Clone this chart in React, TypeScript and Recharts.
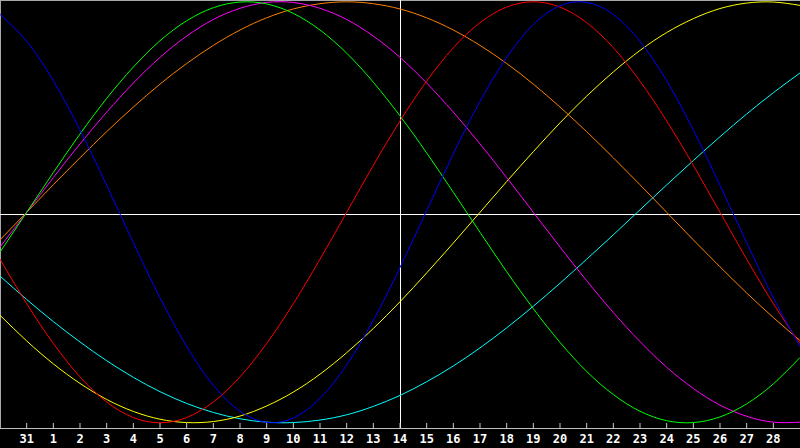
import { LineChart, Line, XAxis, YAxis, ReferenceLine } from "recharts";

// day labels for each point (index 0 .. 30), Jan 30 -> Mar 1
const days = [
  "30", "31", "1", "2", "3", "4", "5", "6", "7", "8", "9", "10", "11", "12",
  "13", "14", "15", "16", "17", "18", "19", "20", "21", "22", "23", "24",
  "25", "26", "27", "28", "1",
];

// tick positions that carry a label (point index)
const tickIdx = [
  1, 2, 3, 4, 5, 6, 7, 8, 9, 10, 11, 12, 13, 14, 15, 16, 17, 18, 19, 20, 21,
  22, 23, 24, 25, 26, 27, 28, 29,
];

const blue = [
  0.94, 0.812, 0.625, 0.391, 0.128, -0.144, -0.406, -0.637, -0.822, -0.945,
  -0.998, -0.977, -0.884, -0.725, -0.513, -0.262, 0.008, 0.278, 0.527, 0.736,
  0.892, 0.981, 0.997, 0.94, 0.812, 0.625, 0.391, 0.128, -0.144, -0.406,
  -0.637,
];
const red = [
  -0.223, -0.434, -0.623, -0.782, -0.901, -0.975, -1.0, -0.975, -0.901,
  -0.782, -0.623, -0.434, -0.223, 0.0, 0.223, 0.434, 0.623, 0.782, 0.901,
  0.975, 1.0, 0.975, 0.901, 0.782, 0.623, 0.434, 0.223, 0.0, -0.223, -0.434,
  -0.623,
];
const green = [
  -0.189, 0.0, 0.189, 0.372, 0.541, 0.69, 0.815, 0.91, 0.972, 0.999, 0.99,
  0.945, 0.866, 0.756, 0.618, 0.458, 0.282, 0.095, -0.095, -0.282, -0.458,
  -0.618, -0.756, -0.866, -0.945, -0.99, -0.999, -0.972, -0.91, -0.815, -0.69,
];
const magenta = [
  -0.165, 0.0, 0.165, 0.325, 0.476, 0.614, 0.736, 0.837, 0.916, 0.969, 0.997,
  0.997, 0.969, 0.916, 0.837, 0.736, 0.614, 0.476, 0.325, 0.165, 0.0, -0.165,
  -0.325, -0.476, -0.614, -0.736, -0.837, -0.916, -0.969, -0.997, -0.997,
];
const orange = [
  -0.131, 0.0, 0.131, 0.259, 0.383, 0.5, 0.609, 0.707, 0.793, 0.866, 0.924,
  0.966, 0.991, 1.0, 0.991, 0.966, 0.924, 0.866, 0.793, 0.707, 0.609, 0.5,
  0.383, 0.259, 0.131, 0.0, -0.131, -0.259, -0.383, -0.5, -0.609,
];
const yellow = [
  -0.489, -0.611, -0.72, -0.813, -0.889, -0.946, -0.983, -0.999, -0.994,
  -0.968, -0.92, -0.854, -0.769, -0.667, -0.552, -0.425, -0.288, -0.146, 0.0,
  0.146, 0.288, 0.425, 0.552, 0.667, 0.769, 0.854, 0.92, 0.968, 0.994, 0.999,
  0.983,
];
const cyan = [
  -0.303, -0.414, -0.519, -0.616, -0.705, -0.784, -0.852, -0.908, -0.951,
  -0.981, -0.997, -0.999, -0.987, -0.962, -0.922, -0.87, -0.805, -0.73,
  -0.644, -0.549, -0.446, -0.337, -0.223, -0.107, 0.012, 0.13, 0.246, 0.359,
  0.467, 0.568, 0.662,
];

const data = days.map((day, i) => ({
  i,
  day,
  blue: blue[i],
  red: red[i],
  green: green[i],
  magenta: magenta[i],
  orange: orange[i],
  yellow: yellow[i],
  cyan: cyan[i],
}));

const series = [
  { key: "cyan", color: "#00ffff" },
  { key: "yellow", color: "#ffff00" },
  { key: "orange", color: "#ff8000" },
  { key: "magenta", color: "#ff00ff" },
  { key: "green", color: "#00ff00" },
  { key: "red", color: "#ff0000" },
  { key: "blue", color: "#0000ff" },
];

const Y_TOP = 1.0086;
const Y_BOT = -1.0271;

function DayTick(props: any) {
  const { x, y, payload } = props;
  return (
    <g>
      <line x1={x} y1={y - 5.5} x2={x} y2={y} stroke="#c8c8c8" />
      <text
        x={x}
        y={y + 14.5}
        textAnchor="middle"
        fill="#ffffff"
        fontFamily="DejaVu Sans Mono, monospace"
        fontWeight="bold"
        fontSize={12}
      >
        {days[payload.value]}
      </text>
    </g>
  );
}

export default function App() {
  return (
    <div
      style={{
        position: "absolute",
        left: 0,
        top: 0,
        width: 800,
        height: 448,
        background: "#000000",
      }}
    >
      <LineChart
        width={800}
        height={448}
        data={data}
        margin={{ top: 0, right: 0, left: 0, bottom: 0 }}
      >
        <XAxis
          dataKey="i"
          type="number"
          domain={[0, 30]}
          ticks={tickIdx}
          interval={0}
          height={19.5}
          axisLine={{ stroke: "#c0c0c0" }}
          tickLine={false}
          tickSize={0}
          tickMargin={0}
          tick={<DayTick />}
        />
        <YAxis hide domain={[Y_BOT, Y_TOP]} allowDataOverflow />
        <ReferenceLine y={Y_TOP} stroke="#a8a8a8" strokeWidth={2} />
        <ReferenceLine x={0} stroke="#a8a8a8" strokeWidth={2} />
        <ReferenceLine y={-0.0105} stroke="#ffffff" />
        <ReferenceLine x={15.019} stroke="#ffffff" />
        {series.map((s) => (
          <Line
            key={s.key}
            type="natural"
            dataKey={s.key}
            stroke={s.color}
            strokeWidth={1}
            dot={false}
            activeDot={false}
            isAnimationActive={false}
          />
        ))}
      </LineChart>
    </div>
  );
}
